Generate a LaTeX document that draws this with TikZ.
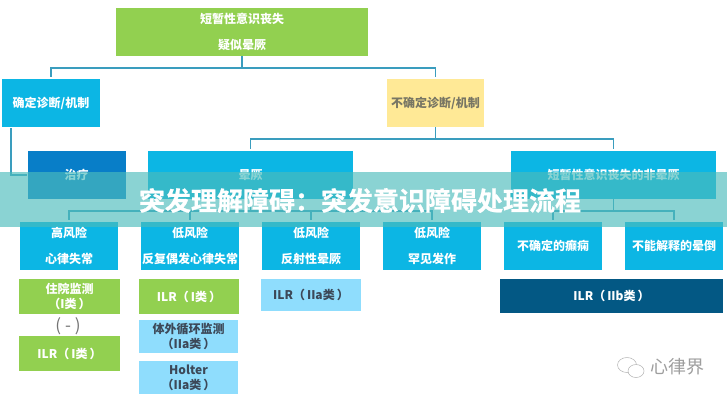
\documentclass[tikz,border=0pt]{standalone}
\usepackage{fontspec}
\setmainfont{Noto Sans CJK SC}
\newfontfamily\titlefont{Noto Sans CJK SC}[UprightFont=* Bold,FakeBold=0.8]
\usetikzlibrary{calc}
\definecolor{cgreen}{RGB}{146,208,80}
\definecolor{ccyan}{RGB}{12,182,228}
\definecolor{cdeep}{RGB}{8,126,200}
\definecolor{cyellow}{RGB}{255,233,150}
\definecolor{clight}{RGB}{143,221,253}
\definecolor{cnavy}{RGB}{3,88,132}
\definecolor{cline}{RGB}{58,157,190}
\definecolor{cband}{RGB}{76,188,188}
\definecolor{cdark}{RGB}{60,72,88}
\definecolor{cmuted}{RGB}{120,118,100}
\tikzset{
  x=1pt,y=-1pt,
  box/.style={inner sep=0pt,outer sep=0pt,align=center,font=\fontsize{12}{26}\selectfont\bfseries,text=white},
  tight/.style={font=\fontsize{12}{15}\selectfont\bfseries},
  rowbox/.style={box,fill=ccyan,minimum width=98pt,minimum height=48pt},
  greenbox/.style={box,tight,fill=cgreen,minimum width=101pt,minimum height=35pt},
  lightbox/.style={box,tight,fill=clight,text=cdark,minimum width=99pt,minimum height=33pt},
  conn/.style={draw=cline,line width=1.4pt},
  tip/.style={conn,shorten >=2pt},
}
\begin{document}
\begin{tikzpicture}
\useasboundingbox (0,0) rectangle (727,400);
\fill[white] (0,0) rectangle (727,400);
% top level
\node[box,fill=cgreen,minimum width=252pt,minimum height=48pt] (top) at (242,32) {短暂性意识丧失\\疑似晕厥};
\node[box,fill=ccyan,minimum width=98pt,minimum height=48pt] (sure) at (51,103) {确定诊断/机制};
\node[box,fill=cyellow,text=cmuted,minimum width=97pt,minimum height=48pt] (unsure) at (435.5,103) {不确定诊断/机制};
% second level
\node[box,fill=cdeep,minimum width=98pt,minimum height=48pt] (treat) at (76.5,175) {治疗};
\node[box,fill=ccyan,minimum width=205pt,minimum height=48pt] (syn) at (250.5,175) {晕厥};
\node[box,fill=ccyan,minimum width=205pt,minimum height=48pt] (non) at (613.5,175) {短暂性意识丧失的非晕厥};
% third level
\node[rowbox] (r1) at (69,246) {高风险\\心律失常};
\node[rowbox] (r2) at (190,246) {低风险\\反复偶发心律失常};
\node[rowbox] (r3) at (311,246) {低风险\\反射性晕厥};
\node[rowbox] (r4) at (432,246) {低风险\\罕见发作};
\node[rowbox] (r5) at (553,246) {不确定的癫痫};
\node[rowbox] (r6) at (674,246) {不能解释的晕倒};
% recommendations
\node[greenbox] (a1) at (69.5,296.5) {住院监测\\（I类\,）};
\node[box,font=\fontsize{17}{17}\selectfont,text=black!55] (a2) at (68,326) {( - )};
\node[greenbox] (a3) at (69.5,353.5) {ILR（\,I类\,）};
\node[greenbox,minimum width=100pt] (b1) at (189,296.5) {ILR（\,I类\,）};
\node[lightbox] (b2) at (188.5,336.5) {体外循环监测\\（IIa类\,）};
\node[lightbox] (b3) at (188.5,377.5) {Holter\\（IIa类\,）};
\node[lightbox,minimum width=100pt,minimum height=32pt] (c1) at (311,295) {ILR（\,IIa类\,）};
\node[box,tight,fill=cnavy,minimum width=223pt,minimum height=34pt] (d1) at (611.5,296) {ILR（\,IIb类\,）};
% connectors
\draw[tip] (top.south) -- ++(0,12) -| (sure.north);
\draw[tip] (top.south) -- ++(0,12) -| (unsure.north);
\draw[conn,shorten >=1pt] ($(sure.south west)+(9,1)$) |- (treat.west);
\draw[tip] (unsure.south) -- ++(0,12) -| (syn.north);
\draw[tip] (unsure.south) -- ++(0,12) -| (non.north);
\foreach \t in {r1,r2,r3,r4} \draw[tip] (syn.south) -- ++(0,12) -| (\t.north);
\foreach \t in {r5,r6} \draw[tip] (non.south) -- ++(0,12) -| (\t.north);
% banner
\fill[cband,opacity=.65] (0,172) rectangle (727,227);
\node[inner sep=0pt,text=white,font=\fontsize{26}{26}\selectfont\titlefont] (title) at (360,200.5) {突发理解障碍：突发意识障碍处理流程};
% watermark
\draw[black!30,line width=.5pt] (627,365) ellipse [x radius=9.5pt,y radius=7.5pt];
\draw[black!30,line width=.5pt,fill=white] (636,371) ellipse [x radius=8pt,y radius=6.5pt];
\node[inner sep=0pt,text=black!38,font=\fontsize{18}{18}\selectfont] (mark) at (677,367) {心律界};
\end{tikzpicture}
\end{document}
